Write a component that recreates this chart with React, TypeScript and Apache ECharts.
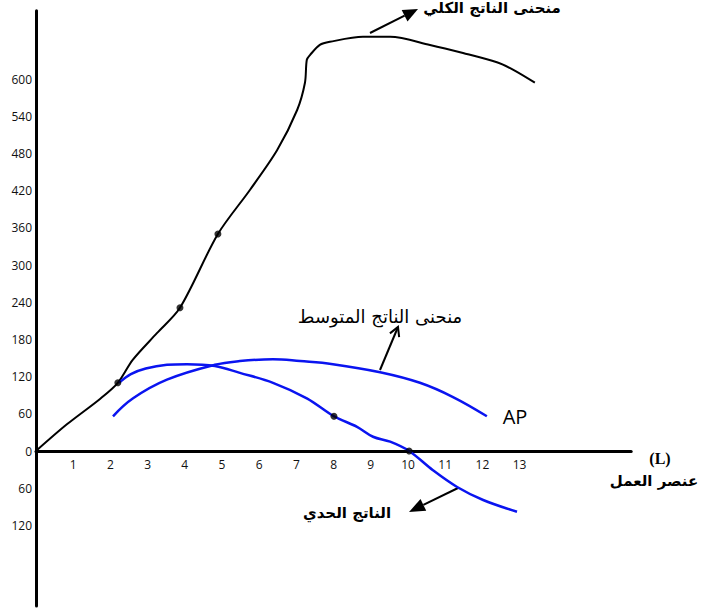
import React, { useEffect, useRef } from "react";
import * as echarts from "echarts";

// Total product (TP) curve
const tpL = [0, 0.83, 1.72, 2.2, 2.6, 3.25, 3.87, 4.89, 5.75, 6.48, 7.02, 7.23, 7.28, 7.37, 7.63, 7.9, 8.79, 9.52, 10.59, 11.48, 12.39, 12.82, 13.41];
const tpQ = [0, 43, 84, 110, 147, 190, 231, 350, 421, 485, 550, 594, 631, 639, 655, 660, 668, 668, 655, 642, 627, 615, 594];
const tpDotL = [2.2, 3.87, 4.89];
const tpDotQ = [110, 231, 350];

// Average product (AP) curve
const apL = [2.07, 2.61, 3.52, 4.81, 5.48, 6.37, 7.1, 7.98, 9.25, 10.32, 11.21, 12.12];
const apQ = [56, 85, 115, 139, 145, 148, 145, 140, 127, 110, 87, 56];

// Marginal product (MP) curve
const mpL = [2.23, 2.55, 2.95, 3.52, 4.06, 4.81, 5.48, 6.37, 7.28, 8.01, 8.63, 9.06, 9.52, 10.03, 10.67, 11.32, 12.02, 12.93];
const mpQ = [110, 124, 133, 139, 140, 137, 126, 110, 85, 56, 39, 23, 15, 0, -31, -58, -79, -98];
const mpDotL = [8.01, 10.03];
const mpDotQ = [56, 0];

// Tick labels
const xTicks = [1, 2, 3, 4, 5, 6, 7, 8, 9, 10, 11, 12, 13];
const yTicks = [-120, -60, 0, 60, 120, 180, 240, 300, 360, 420, 480, 540, 600];

const zip = (a: number[], b: number[]) => a.map((v, i) => [v, b[i]]);

function arrow(x1: number, y1: number, x2: number, y2: number, len: number, wid: number, filled: boolean) {
  const dx = x2 - x1, dy = y2 - y1;
  const d = Math.hypot(dx, dy);
  const ux = dx / d, uy = dy / d;
  const nx = -uy, ny = ux;
  const bx = x2 - ux * len, by = y2 - uy * len;
  const p1 = [bx + nx * wid / 2, by + ny * wid / 2];
  const p2 = [bx - nx * wid / 2, by - ny * wid / 2];
  const els: any[] = [
    { type: "line", shape: { x1, y1, x2: filled ? bx : x2, y2: filled ? by : y2 }, style: { stroke: "#000", lineWidth: 2 } },
  ];
  if (filled) {
    els.push({ type: "polygon", shape: { points: [[x2, y2], p1, p2] }, style: { fill: "#000" } });
  } else {
    els.push({ type: "polyline", shape: { points: [p1, [x2, y2], p2] }, style: { stroke: "#000", lineWidth: 2, fill: null } });
  }
  return els;
}

export default function App() {
  const ref = useRef<HTMLDivElement>(null);
  useEffect(() => {
    document.body.style.margin = "0";
    const chart = echarts.init(ref.current!, null, { renderer: "svg" });
    const arabicBold = { fontFamily: "DejaVu Sans, Noto Sans, sans-serif", fontWeight: "bold", fill: "#000" };
    chart.setOption({
      animation: false,
      backgroundColor: "#fff",
      grid: { left: 36, right: 76.8, top: 10.8, bottom: 2, outerBoundsMode: "none", containLabel: false },
      xAxis: {
        type: "value",
        min: 0,
        max: 16,
        offset: -155,
        axisLine: { onZero: false, lineStyle: { color: "#000", width: 3 } },
        axisTick: { show: false },
        splitLine: { show: false },
        axisLabel: {
          customValues: xTicks,
          margin: 7,
          fontSize: 12,
          color: "#111",
          fontFamily: "Open Sans, sans-serif",
        },
      },
      yAxis: {
        type: "value",
        min: -250,
        max: 710,
        axisLine: { onZero: false, lineStyle: { color: "#000", width: 3 } },
        axisTick: { show: false },
        splitLine: { show: false },
        axisLabel: {
          customValues: yTicks,
          margin: 4,
          fontSize: 12,
          color: "#111",
          fontFamily: "Open Sans, sans-serif",
          formatter: (v: number) => String(Math.abs(v)),
        },
      },
      series: [
        {
          name: "TP",
          type: "line",
          data: zip(tpL, tpQ),
          smooth: 0.3,
          showSymbol: false,
          lineStyle: { color: "#000", width: 2 },
        },
        {
          name: "AP",
          type: "line",
          data: zip(apL, apQ),
          smooth: 0.4,
          showSymbol: false,
          lineStyle: { color: "#0a14f0", width: 2.5 },
        },
        {
          name: "MP",
          type: "line",
          data: zip(mpL, mpQ),
          smooth: 0.35,
          showSymbol: false,
          lineStyle: { color: "#0a14f0", width: 2.5 },
        },
        {
          name: "dots",
          type: "scatter",
          data: [...zip(tpDotL, tpDotQ), ...zip(mpDotL, mpDotQ)],
          symbolSize: 7,
          itemStyle: { color: "#000" },
          z: 5,
        },
      ],
      graphic: [
        { type: "text", x: 492, y: 8, style: { text: "منحنى الناتج الكلي", fontSize: 15, align: "center", verticalAlign: "middle", ...arabicBold } },
        ...arrow(370, 33, 418, 9, 15, 13, true),
        { type: "text", x: 380, y: 316, style: { text: "منحنى الناتج المتوسط", fontSize: 18, align: "center", verticalAlign: "middle", fontFamily: "DejaVu Sans, sans-serif", fill: "#000" } },
        ...arrow(380, 370, 398, 327, 9, 10, false),
        { type: "text", x: 515, y: 416, style: { text: "AP", fontSize: 20, align: "center", verticalAlign: "middle", fontFamily: "Open Sans, sans-serif", fill: "#000" } },
        { type: "text", x: 660, y: 458, style: { text: "(L)", fontSize: 16, align: "center", verticalAlign: "middle", fontFamily: "Liberation Serif, serif", fontWeight: "bold", fill: "#000" } },
        { type: "text", x: 654, y: 481, style: { text: "عنصر العمل", fontSize: 15, align: "center", verticalAlign: "middle", ...arabicBold } },
        { type: "text", x: 347, y: 513, style: { text: "الناتج الحدي", fontSize: 15, align: "center", verticalAlign: "middle", ...arabicBold } },
        ...arrow(458, 488, 409, 512, 16, 13, true),
      ],
    });
    return () => chart.dispose();
  }, []);
  return <div ref={ref} style={{ width: 708, height: 608 }} />;
}
